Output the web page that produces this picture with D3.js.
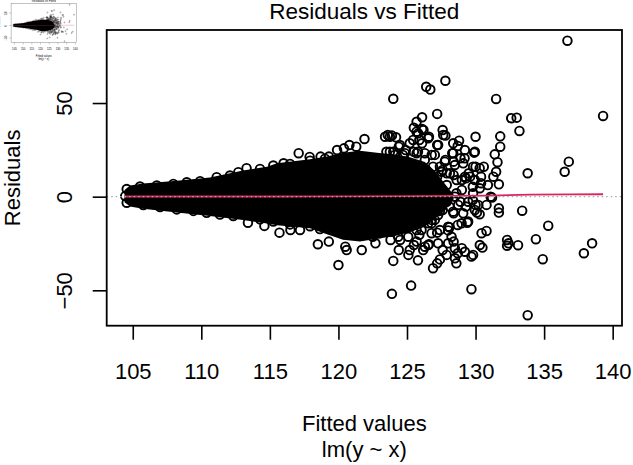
<!DOCTYPE html>
<html>
<head>
<meta charset="utf-8">
<script src="https://cdn.jsdelivr.net/npm/d3@7"></script>
<style>
  body { margin: 0; background: #fff; }
  svg { display: block; font-family: "Liberation Sans", Arial, sans-serif; }
</style>
</head>
<body>
<div id="chart"></div>
<script>
// axis ticks
const xTicks = [105, 110, 115, 120, 125, 130, 135, 140];
const yTicks = [-50, 0, 50];

// dense cloud envelope (fitted, upper residual, lower residual)
const coreFit = [104.4, 104.8, 105.75, 108.23, 110.63, 113.04, 114.79, 115.52, 117.93, 119.16, 120.33, 121.57, 122.81, 124.12, 125.21, 126.3, 127.0, 127.8, 128.4];
const coreTop = [3.5, 6.0, 7.0, 8.5, 10.3, 14.0, 16.0, 17.8, 20.0, 21.5, 23.5, 24.5, 23.5, 22.5, 21.0, 18.5, 14.0, 6.5, 1.0];
const coreBot = [-3.0, -5.3, -6.5, -8.5, -10.3, -12.5, -14.3, -15.3, -16.8, -20.0, -23.0, -24.0, -22.5, -21.0, -19.0, -16.0, -12.0, -7.0, -1.5];

// individual points: fitted values and residuals
const ptFitted = [
  136.7, 126.4, 126.7, 127.8, 124.0, 131.5, 132.6, 133.0, 139.3, 133.2, 127.2, 126.1, 125.5, 125.7, 126.1, 127.6,
  127.8, 123.9, 124.2, 126.6, 121.9, 130.0, 131.8, 128.8, 128.7, 131.8, 131.4, 131.6, 131.5, 131.7, 127.2, 129.9,
  133.8, 136.8, 136.5, 131.1, 131.7, 131.7, 133.4, 135.3, 134.4, 132.3, 132.4, 132.3, 133.1, 134.9, 138.5, 137.9,
  133.8, 129.7, 125.3, 123.9, 130.8, 130.5, 129.7, 129.4, 127.2, 128.1, 128.0, 127.6, 126.9, 127.2, 127.4, 128.6,
  128.5, 128.7, 129.0, 125.8, 124.0, 126.3, 126.6, 125.2, 124.4, 125.1, 121.7, 128.4, 130.1, 130.3, 131.2, 130.0,
  129.8, 128.9, 128.6, 129.0, 127.9, 128.1, 126.8, 126.7, 127.4, 129.5, 130.0, 130.3, 128.9, 128.3, 128.4, 129.3,
  129.8, 130.4, 127.4, 127.8, 127.9, 126.8, 126.3, 126.7, 126.1, 125.8, 125.2, 124.9, 124.4, 124.0, 130.8, 123.4,
  125.7, 126.2, 125.9, 124.7, 125.5, 129.2, 130.6, 129.6, 130.4, 130.9, 131.3, 127.6, 128.4, 129.0, 127.9, 126.9,
  127.2, 126.4, 128.7, 128.0, 125.5, 124.5, 127.6, 128.4, 129.3, 126.8, 125.9, 125.7, 122.5, 123.0, 123.8,
  117.1, 113.3, 116.0, 118.7, 119.3, 119.9, 120.4, 121.3, 120.8, 123.5, 123.6, 117.9,
  113.4, 115.7, 118.5, 119.3, 120.0, 116.5, 117.2, 120.5, 120.6, 122.7, 114.6,
  104.56, 105.53, 106.75, 107.96, 108.94, 109.91, 111.12, 112.09, 112.7, 114.28, 115.25, 116.47, 117.93, 119.02, 104.45,
  104.56, 105.77, 106.99, 108.21, 109.42, 110.39, 111.36, 112.33, 114.28, 115.25, 116.47, 117.93, 118.65,
  123.75, 124.48, 125.45, 125.82, 126.55, 127.27, 127.64, 128.37, 129.95, 129.22, 128.37, 129.1, 129.82, 128.49, 127.76, 127.03,
  126.3, 125.7, 124.85, 124.12, 123.75, 129.22, 129.95, 128.62, 128.13, 127.52, 129.82, 130.31, 128.49, 129.46, 128.73, 130.19,
  129.95, 129.1, 128.37, 127.27, 127.03, 126.55, 126.06, 126.79, 127.4, 128.0, 128.98, 129.46, 128.25, 127.27, 126.55, 125.7,
  125.09, 124.36, 123.88, 126.18, 128.49, 129.22, 129.82, 127.89, 130.31, 130.44
];
const ptResid = [
  83.3, 58.7, 57.2, 61.9, 52.3, 52.2, 41.9, 42.2, 43.1, 35.1, 44.2, 42.4, 36.8, 34.7, 36.1, 35.6,
  32.6, 32.6, 31.7, 32.0, 30.8, 32.0, 32.2, 29.9, 27.1, 26.7, 22.6, 18.4, 13.3, 6.6, 27.6, 23.5,
  12.5, 18.7, 13.3, 0.0, -6.2, -8.5, -7.5, -15.5, -22.7, -23.1, -24.9, -26.2, -25.9, -33.4, -24.9, -30.2,
  -63.3, -49.4, -47.5, -51.9, -18.3, -27.2, -32.0, -13.9, -19.2, -16.3, -18.0, -28.5, -38.2, -35.6, -33.5, -35.6,
  -32.9, -30.2, -27.5, -34.0, -34.3, -26.7, -25.4, -28.5, -28.5, -31.1, -28.5, -24.0, -8.5, -9.4, -0.5, -4.4,
  -1.8, -2.7, 1.8, 3.6, -2.7, -5.3, -12.4, -9.8, -7.6, 12.5, 16.0, 15.2, 20.5, 23.2, 18.7, 9.8,
  5.3, 7.2, 16.0, 19.6, 12.5, 22.3, 19.6, 10.7, 28.5, 24.0, 28.5, 24.9, 26.7, 24.0, -4.4, 32.0,
  40.0, 35.6, 30.3, 22.3, 24.0, 20.5, 16.0, 10.7, 10.7, 6.2, 10.7, 14.3, 11.6, 8.9, 6.2, 16.0,
  10.7, 14.3, -15.1, -24.9, -25.8, -23.1, -7.1, -8.9, -5.3, -14.2, -20.4, -17.8, -21.4, -19.5, -23.1,
  23.2, 15.2, 17.8, 21.4, 21.4, 24.9, 25.8, 26.7, 27.6, 24.0, 32.9, 21.2,
  -13.9, -19.2, -25.4, -24.0, -36.5, -17.8, -17.8, -26.7, -28.5, -24.9, -15.6,
  4.1, 5.4, 6.0, 6.8, 7.7, 8.3, 10.4, 11.3, 13.1, 14.8, 16.6, 17.5, 19.2, 20.3, 0.3,
  -3.2, -4.5, -5.5, -6.8, -7.6, -8.6, -9.5, -10.3, -12.1, -13.3, -14.8, -15.8, -17.3,
  32.0, 27.6, 30.3, 33.8, 31.2, 27.6, 32.9, 28.5, 24.0, 24.9, 23.2, 17.8, 16.0, 16.9, 18.7, 22.3,
  23.2, 23.2, 23.2, 22.3, 24.0, 10.7, 8.9, 8.9, 12.5, 13.3, 1.8, 4.5, 0.0, -2.7, -4.4, -4.4,
  -7.1, -8.9, -8.0, -9.8, -12.4, -14.2, -17.8, -19.5, -17.8, -16.0, -14.2, -13.3, -21.4, -24.9, -25.8, -24.0,
  -21.4, -21.4, -18.7, -28.5, -27.5, -29.4, -31.1, -31.1, -25.8, -19.5
];

// smoother line
const smoothFit = [104.4, 110, 115, 120, 125, 128, 131, 134, 137, 139.3];
const smoothRes = [0.1, 0.1, 0.1, 0.2, 0.3, 0.4, 0.6, 1.1, 1.2, 1.3];

const w = 633, h = 465;
const plotL = 106.7, plotR = 622, plotT = 30, plotB = 325.7;

const x = d3.scaleLinear().domain([103.1, 140.68]).range([plotL, plotR]);
const y = d3.scaleLinear().domain([-68.9, 89.0]).range([plotB, plotT]);

const svg = d3.select('#chart').append('svg')
  .attr('width', w)
  .attr('height', h);

function draw(g) {
  let core = coreFit.map((f, i) => ({ f: f, t: coreTop[i], b: coreBot[i] }));
  let area = d3.area()
    .x(d => x(d.f))
    .y0(d => y(d.b))
    .y1(d => y(d.t));

  g.append('path')
    .datum(core)
    .attr('d', area)
    .attr('fill', '#000');

  g.selectAll('circle.pt')
    .data(ptFitted)
    .enter()
    .append('circle')
    .attr('class', 'pt')
    .attr('cx', d => x(d))
    .attr('cy', (d, i) => y(ptResid[i]))
    .attr('r', 4.3)
    .attr('fill', 'none')
    .attr('stroke', '#000')
    .attr('stroke-width', 1.9);

  let line = d3.line()
    .x((d, i) => x(d))
    .y((d, i) => y(smoothRes[i]));

  g.append('path')
    .datum(smoothFit)
    .attr('d', line)
    .attr('fill', 'none')
    .attr('stroke', '#d9275e')
    .attr('stroke-width', 1.8);

  // zero reference line, dotted grey
  g.append('line')
    .attr('x1', plotL)
    .attr('x2', plotR)
    .attr('y1', y(0))
    .attr('y2', y(0))
    .attr('stroke', '#a8a8a8')
    .attr('stroke-width', 1.4)
    .attr('stroke-dasharray', '1.5,3');

  // box
  g.append('rect')
    .attr('x', plotL)
    .attr('y', plotT)
    .attr('width', plotR - plotL)
    .attr('height', plotB - plotT)
    .attr('fill', 'none')
    .attr('stroke', '#000')
    .attr('stroke-width', 1.8);

  let xAxis = d3.axisBottom(x).tickValues(xTicks).tickSize(14).tickSizeOuter(0);
  let gx = g.append('g')
    .attr('transform', 'translate(0,' + plotB + ')')
    .call(xAxis);
  gx.select('.domain').remove();
  gx.selectAll('line').attr('stroke-width', 1.6);
  gx.selectAll('text')
    .attr('y', 53.3)
    .attr('dy', null)
    .attr('font-size', 22)
    .attr('font-family', '"Liberation Sans", Arial, sans-serif');

  let yAxis = d3.axisLeft(y).tickValues(yTicks).tickSize(14).tickSizeOuter(0);
  let gy = g.append('g')
    .attr('transform', 'translate(' + plotL + ',0)')
    .call(yAxis);
  gy.select('.domain').remove();
  gy.selectAll('line').attr('stroke-width', 1.6);
  gy.selectAll('text')
    .attr('x', null)
    .attr('dy', null)
    .attr('text-anchor', 'middle')
    .attr('transform', 'translate(-35,0) rotate(-90)')
    .attr('font-size', 22)
    .attr('font-family', '"Liberation Sans", Arial, sans-serif');

  g.append('text')
    .text('Residuals vs Fitted')
    .attr('x', (plotL + plotR) / 2)
    .attr('y', 18.5)
    .attr('text-anchor', 'middle')
    .attr('font-size', 22.5);

  g.append('text')
    .text('Fitted values')
    .attr('x', (plotL + plotR) / 2)
    .attr('y', 431)
    .attr('text-anchor', 'middle')
    .attr('font-size', 22);

  g.append('text')
    .text('lm(y ~ x)')
    .attr('x', (plotL + plotR) / 2)
    .attr('y', 457)
    .attr('text-anchor', 'middle')
    .attr('font-size', 22);

  g.append('text')
    .text('Residuals')
    .attr('transform', 'translate(19.5,' + ((plotT + plotB) / 2) + ') rotate(-90)')
    .attr('text-anchor', 'middle')
    .attr('font-size', 22);
}

// small preview copy in the corner
let thumb = svg.append('g')
  .attr('transform', 'translate(-2.5,-0.7) scale(0.127,0.1332)');
draw(thumb);

let main = svg.append('g');
draw(main);
</script>
</body>
</html>
